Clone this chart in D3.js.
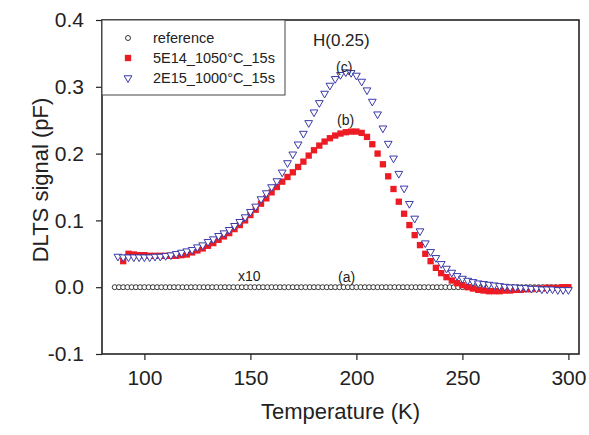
<!DOCTYPE html>
<html lang="en">
<head>
<meta charset="UTF-8">
<title>DLTS H(0.25)</title>
<style>
  * { box-sizing: border-box; }
  body { margin: 0; background: #fff; font-family: 'Liberation Sans', Arial, sans-serif; }
  svg text { font-family: 'Liberation Sans', Arial, sans-serif; }
</style>
</head>
<body>
<div id="chart"></div>
<script src="https://cdn.jsdelivr.net/npm/d3@7"></script>
<script>
// reference sample (x10), 86 .. 300 K every 2 K
var refT = [86, 88, 90, 92, 94, 96, 98, 100, 102, 104, 106, 108, 110, 112, 114, 116, 118, 120, 122, 124,
            126, 128, 130, 132, 134, 136, 138, 140, 142, 144, 146, 148, 150, 152, 154, 156, 158, 160, 162, 164,
            166, 168, 170, 172, 174, 176, 178, 180, 182, 184, 186, 188, 190, 192, 194, 196, 198, 200, 202, 204,
            206, 208, 210, 212, 214, 216, 218, 220, 222, 224, 226, 228, 230, 232, 234, 236, 238, 240, 242, 244,
            246, 248, 250, 252, 254, 256, 258, 260, 262, 264, 266, 268, 270, 272, 274, 276, 278, 280, 282, 284,
            286, 288, 290, 292, 294, 296, 298, 300];
var refV = [0.000, 0.000, 0.000, 0.000, 0.000, 0.000, 0.000, 0.000, 0.000, 0.000, 0.000, 0.000, 0.000, 0.000, 0.000, 0.000, 0.000, 0.000, 0.000, 0.000,
            0.000, 0.000, 0.000, 0.000, 0.000, 0.000, 0.000, 0.000, 0.000, 0.000, 0.000, 0.000, 0.000, 0.000, 0.000, 0.000, 0.000, 0.000, 0.000, 0.000,
            0.000, 0.000, 0.000, 0.000, 0.000, 0.000, 0.000, 0.000, 0.000, 0.000, 0.000, 0.000, 0.000, 0.000, 0.000, 0.000, 0.000, 0.000, 0.000, 0.000,
            0.000, 0.000, 0.000, 0.000, 0.000, 0.000, 0.000, 0.000, 0.000, 0.000, 0.000, 0.000, 0.000, 0.000, 0.000, 0.000, 0.000, 0.000, 0.000, 0.000,
            0.000, 0.000, 0.000, 0.000, 0.000, 0.000, 0.000, 0.000, 0.000, 0.000, 0.000, 0.000, 0.000, 0.000, 0.000, 0.000, 0.000, 0.000, 0.000, 0.000,
            0.000, 0.000, 0.000, 0.000, 0.000, 0.000, 0.000, 0.000];

// 5E14_1050C_15s
var sqT = [90, 92.5, 95, 97.5, 100, 102.5, 105, 107.5, 110, 112.5, 115, 117.5, 120, 122.5, 125, 127.5, 130, 132.5, 135, 137.5,
           140, 142.5, 145, 147.5, 150, 152.5, 155, 157.5, 160, 162.5, 165, 167.5, 170, 172.5, 175, 177.5, 180, 182.5, 185, 187.5,
           190, 192.5, 195, 197.5, 200, 202.5, 205, 207.5, 210, 212.5, 215, 217.5, 220, 222.5, 225, 227.5, 230, 232.5, 235, 237.5,
           240, 242.5, 245, 247.5, 250, 252.5, 255, 257.5, 260, 262.5, 265, 267.5, 270, 272.5, 275, 277.5, 280, 282.5, 285, 287.5,
           290, 292.5, 295, 297.5, 300];
var sqV = [0.039, 0.050, 0.049, 0.048, 0.048, 0.047, 0.047, 0.047, 0.047, 0.047, 0.047, 0.048, 0.049, 0.052, 0.055, 0.058, 0.062, 0.066, 0.071, 0.076,
           0.081, 0.087, 0.093, 0.100, 0.108, 0.116, 0.125, 0.133, 0.142, 0.150, 0.158, 0.165, 0.172, 0.180, 0.188, 0.197, 0.205, 0.212, 0.218, 0.223,
           0.227, 0.230, 0.232, 0.233, 0.233, 0.231, 0.225, 0.214, 0.200, 0.184, 0.166, 0.147, 0.128, 0.110, 0.093, 0.078, 0.063, 0.050, 0.039, 0.029,
           0.021, 0.015, 0.010, 0.006, 0.003, 0.000, -0.002, -0.004, -0.005, -0.006, -0.006, -0.006, -0.005, -0.005, -0.004, -0.004, -0.003, -0.003, -0.002, -0.002,
           -0.001, -0.001, -0.001, 0.000, 0.000];

// 2E15_1000C_15s
var triT = [87.5, 90, 92.5, 95, 97.5, 100, 102.5, 105, 107.5, 110, 112.5, 115, 117.5, 120, 122.5, 125, 127.5, 130, 132.5, 135,
            137.5, 140, 142.5, 145, 147.5, 150, 152.5, 155, 157.5, 160, 162.5, 165, 167.5, 170, 172.5, 175, 177.5, 180, 182.5, 185,
            187.5, 190, 192.5, 195, 197.5, 200, 202.5, 205, 207.5, 210, 212.5, 215, 217.5, 220, 222.5, 225, 227.5, 230, 232.5, 235,
            237.5, 240, 242.5, 245, 247.5, 250, 252.5, 255, 257.5, 260, 262.5, 265, 267.5, 270, 272.5, 275, 277.5, 280, 282.5, 285,
            287.5, 290, 292.5, 295, 297.5, 300];
var triV = [0.046, 0.045, 0.045, 0.045, 0.045, 0.045, 0.045, 0.046, 0.046, 0.047, 0.048, 0.050, 0.052, 0.054, 0.056, 0.060, 0.063, 0.068, 0.072, 0.077,
            0.081, 0.086, 0.092, 0.098, 0.105, 0.113, 0.121, 0.132, 0.141, 0.150, 0.159, 0.172, 0.186, 0.199, 0.214, 0.230, 0.246, 0.262, 0.276, 0.290,
            0.302, 0.312, 0.318, 0.322, 0.321, 0.317, 0.308, 0.295, 0.278, 0.259, 0.238, 0.215, 0.193, 0.170, 0.148, 0.125, 0.103, 0.084, 0.066, 0.053,
            0.044, 0.035, 0.028, 0.022, 0.017, 0.013, 0.010, 0.008, 0.006, 0.005, 0.004, 0.003, 0.002, 0.001, 0.000, 0.000, -0.001, -0.001, -0.002, -0.002,
            -0.003, -0.003, -0.003, -0.004, -0.004, -0.004];

var xTicks = [100, 150, 200, 250, 300];
var yTicks = [-0.1, 0.0, 0.1, 0.2, 0.3, 0.4];
var legendNames = ['reference', '5E14_1050\u00B0C_15s', '2E15_1000\u00B0C_15s'];

var W = 589, H = 435;
var m = { left: 102, right: 10, top: 20, bottom: 81 };

var svg = d3.select('#chart').append('svg').attr('width', W).attr('height', H);

var x = d3.scaleLinear().domain([80, 305]).range([m.left, W - m.right]);
var y = d3.scaleLinear().domain([-0.1, 0.4]).range([H - m.bottom, m.top]);

var red = '#ed1c24', blue = '#3a3aa8';

// plain hyphen for negatives, like the original
var f1 = d3.formatLocale({ decimal: '.', thousands: ',', grouping: [3], currency: ['', ''], minus: '-' }).format('.1f');

// axes
var xAxis = svg.append('g').attr('transform', 'translate(0,' + (H - m.bottom) + ')')
  .call(d3.axisBottom(x).tickValues(xTicks).tickSize(6).tickPadding(10).tickFormat(d3.format('d')));
var yAxis = svg.append('g').attr('transform', 'translate(' + m.left + ',0)')
  .call(d3.axisLeft(y).tickValues(yTicks).tickSize(6).tickPadding(12).tickFormat(f1));
[xAxis, yAxis].forEach(function (a) {
  a.select('.domain').remove();
  a.selectAll('line').attr('stroke', '#222').attr('stroke-width', 1.2);
  a.selectAll('text').attr('font-size', 21).attr('fill', '#222');
});

// frame
svg.append('rect').attr('x', m.left).attr('y', m.top)
  .attr('width', W - m.right - m.left).attr('height', H - m.bottom - m.top)
  .attr('fill', 'none').attr('stroke', '#222').attr('stroke-width', 1.6);

// axis titles
svg.append('text').attr('x', (m.left + W - m.right) / 2).attr('y', 419)
  .attr('text-anchor', 'middle').attr('font-size', 22).attr('fill', '#222').text('Temperature (K)');
svg.append('text').attr('transform', 'translate(48,180) rotate(-90)')
  .attr('text-anchor', 'middle').attr('font-size', 22).attr('fill', '#222').text('DLTS signal (pF)');

var plot = svg.append('g');

function pairs(ts, vs) { return ts.map(function (t, i) { return [t, vs[i]]; }); }

// reference circles
plot.selectAll('circle.ref').data(pairs(refT, refV)).enter().append('circle')
  .attr('cx', function (d) { return x(d[0]); }).attr('cy', function (d) { return y(d[1]); })
  .attr('r', 2.5).attr('fill', '#fff').attr('stroke', '#222').attr('stroke-width', 0.9);

// squares
var sq = d3.symbol().type(d3.symbolSquare).size(40);
plot.selectAll('path.sq').data(pairs(sqT, sqV)).enter().append('path')
  .attr('d', sq).attr('fill', red)
  .attr('transform', function (d) { return 'translate(' + x(d[0]) + ',' + y(d[1]) + ')'; });

// down triangles
var tri = d3.symbol().type(d3.symbolTriangle).size(26);
plot.selectAll('path.tri').data(pairs(triT, triV)).enter().append('path')
  .attr('d', tri).attr('fill', '#fff').attr('stroke', blue).attr('stroke-width', 1)
  .attr('transform', function (d) { return 'translate(' + x(d[0]) + ',' + y(d[1]) + ') rotate(180)'; });

// legend
var lg = svg.append('g');
lg.append('rect').attr('x', m.left).attr('y', m.top).attr('width', 183).attr('height', 75)
  .attr('fill', '#fff').attr('stroke', '#444').attr('stroke-width', 1);
var rows = [38, 58, 78];
lg.append('circle').attr('cx', 128).attr('cy', rows[0]).attr('r', 2.5)
  .attr('fill', '#fff').attr('stroke', '#222').attr('stroke-width', 0.9);
lg.append('path').attr('d', sq).attr('fill', red).attr('transform', 'translate(128,' + rows[1] + ')');
lg.append('path').attr('d', tri).attr('fill', '#fff').attr('stroke', blue)
  .attr('transform', 'translate(128,' + rows[2] + ') rotate(180)');
lg.selectAll('text').data(legendNames).enter().append('text')
  .attr('x', 153).attr('y', function (d, i) { return rows[i] + 5; })
  .attr('font-size', 14.5).attr('fill', '#222').text(function (d) { return d; });

// annotations
var notes = [
  { t: 'H(0.25)', x: 313, y: 46, s: 17 },
  { t: '(c)', x: 336, y: 72, s: 14 },
  { t: '(b)', x: 337, y: 125, s: 14 },
  { t: '(a)', x: 338, y: 282, s: 14 },
  { t: 'x10', x: 238, y: 281, s: 14 }
];
svg.selectAll('text.note').data(notes).enter().append('text')
  .attr('x', function (d) { return d.x; }).attr('y', function (d) { return d.y; })
  .attr('font-size', function (d) { return d.s; }).attr('fill', '#222')
  .text(function (d) { return d.t; });
</script>
</body>
</html>
